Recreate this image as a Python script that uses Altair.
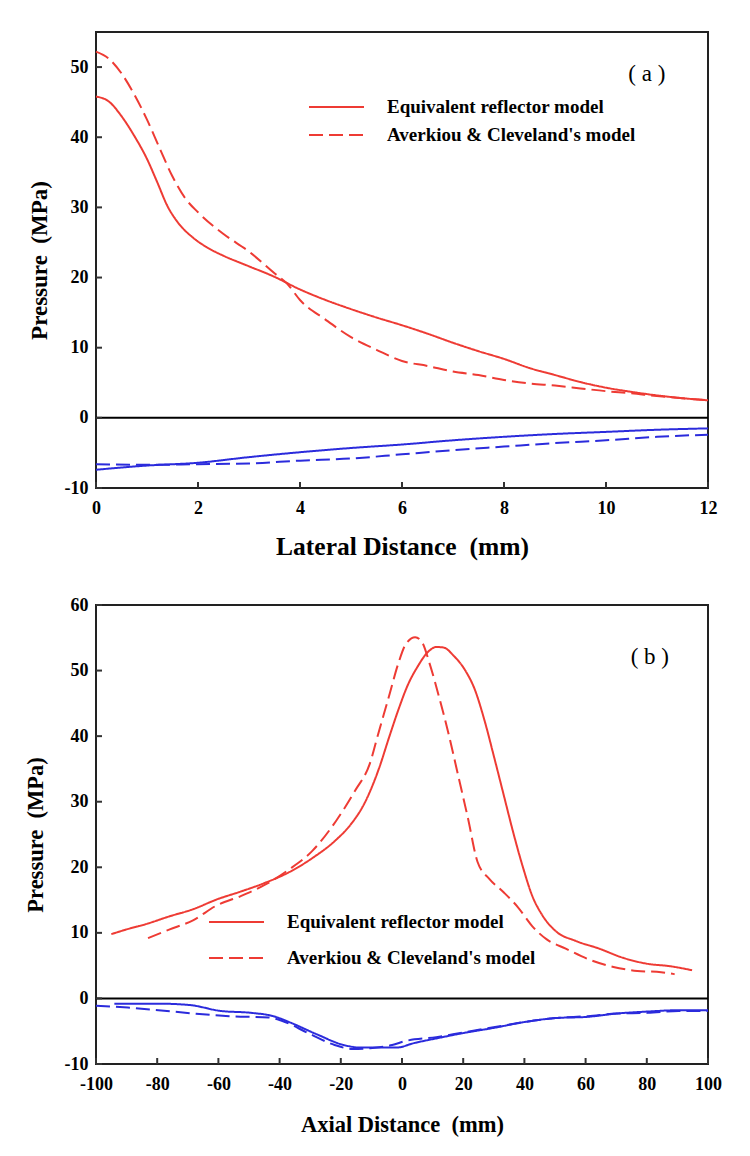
import altair as alt
import pandas as pd

RED = "#ee3b34"
BLUE = "#2b2bdc"
EQ = "Equivalent reflector model"
AC = "Averkiou & Cleveland's model"
FONT = "Liberation Serif"
NB = "\u00a0"

# ---------------- panel (a): lateral distance ----------------
a_eq_pos_x = [0, 0.25, 0.5, 0.75, 1, 1.2, 1.4, 1.6, 1.9, 2.2, 2.5, 3, 3.5, 4, 4.5, 5,
              5.5, 6, 6.5, 7, 7.5, 8, 8.5, 9, 9.5, 10, 10.5, 11, 11.5, 12]
a_eq_pos_p = [45.8, 45.1, 43.0, 40.2, 36.9, 33.6, 30.2, 27.9, 25.7, 24.2, 23.1, 21.6, 20.1,
              18.3, 16.8, 15.5, 14.3, 13.2, 12.0, 10.7, 9.5, 8.4, 7.1, 6.1, 5.1, 4.3, 3.7,
              3.2, 2.8, 2.5]
a_ac_pos_x = [0, 0.25, 0.5, 0.75, 1, 1.25, 1.5, 1.75, 2, 2.5, 3, 3.5, 3.75, 4, 4.5, 5,
              5.5, 6, 6.5, 7, 7.5, 8, 8.5, 9, 9.5, 10, 10.5, 11, 11.5, 12]
a_ac_pos_p = [52.2, 51.2, 49.1, 46.1, 42.5, 38.4, 34.4, 31.3, 29.3, 26.2, 23.7, 20.6, 19.1,
              16.8, 14.0, 11.5, 9.7, 8.1, 7.4, 6.6, 6.1, 5.4, 4.9, 4.6, 4.2, 3.8, 3.5,
              3.1, 2.8, 2.5]
a_neg_x = [0, 1, 2, 3, 4, 5, 6, 7, 8, 9, 10, 11, 12]
a_eq_neg_p = [-7.4, -6.8, -6.4, -5.6, -4.9, -4.3, -3.8, -3.2, -2.7, -2.3, -2.0, -1.7, -1.5]
a_ac_neg_p = [-6.6, -6.7, -6.6, -6.5, -6.1, -5.8, -5.2, -4.6, -4.1, -3.6, -3.2, -2.7, -2.4]

# ---------------- panel (b): axial distance ----------------
b_eq_pos_x = [-95, -90.2, -83.9, -76.1, -68.3, -60.5, -52.7, -44.9, -37.1, -29.3, -21.5,
              -16.8, -12.1, -7.5, -4.3, -1.2, 1.9, 5.1, 8.2, 11.3, 13.7, 16.8, 20.7, 23.8,
              26.9, 30.1, 33.2, 36.3, 39.4, 42.6, 45.7, 50.4, 56.6, 64.4, 72.2, 80.0, 87.8, 94.8]
b_eq_pos_p = [9.8, 10.5, 11.3, 12.5, 13.6, 15.1, 16.3, 17.6, 19.2, 21.4, 24.2, 26.5, 29.9,
              35.1, 39.7, 44.0, 47.8, 50.6, 52.7, 53.6, 53.5, 52.3, 50.0, 47.1, 42.5, 36.8,
              31.1, 25.4, 20.2, 15.6, 12.8, 10.2, 8.8, 7.6, 6.2, 5.3, 4.9, 4.3]
b_ac_pos_x = [-83, -76.1, -68.3, -60.5, -52.7, -44.9, -37.1, -29.3, -21.5, -15.3, -10.6,
              -7.5, -4.3, -1.2, 1.2, 4.3, 6.6, 9.0, 12.1, 15.3, 18.4, 21.5, 24.7, 28.6,
              33.2, 37.9, 42.6, 47.3, 53.5, 61.3, 69.1, 76.9, 84.7, 89.1]
b_ac_pos_p = [9.2, 10.5, 11.9, 14.2, 15.6, 17.3, 19.6, 22.5, 27.1, 31.7, 35.7, 40.8, 46.0,
              51.1, 54.0, 55.1, 54.3, 51.1, 46.0, 40.2, 33.9, 27.6, 20.8, 18.2, 16.2, 13.9,
              11.0, 9.0, 7.6, 5.9, 4.8, 4.2, 4.0, 3.7]
b_eq_neg_x = [-94, -79.6, -69.5, -59.4, -49.3, -42.1, -36.4, -27.7, -19.1, -13.3, -1.8,
              4.0, 11.2, 19.8, 29.9, 40, 50, 60.8, 70.2, 80.3, 90.3, 100]
b_eq_neg_p = [-0.8, -0.8, -1.0, -1.9, -2.2, -2.7, -3.7, -5.5, -7.1, -7.5, -7.5, -6.8, -6.1,
              -5.3, -4.5, -3.6, -3.0, -2.8, -2.3, -2.0, -1.8, -1.8]
b_ac_neg_x = [-100, -89.6, -79.6, -68, -56.5, -43.6, -39.3, -30.6, -22, -16.2, -10.4, -3.2,
              1.1, 11.2, 19.8, 29.9, 40, 50, 60.8, 70.2, 80.3, 90.3, 100]
b_ac_neg_p = [-1.1, -1.4, -1.8, -2.3, -2.7, -2.9, -3.4, -5.3, -7.1, -7.7, -7.6, -7.1, -6.5,
              -5.9, -5.2, -4.4, -3.6, -3.0, -2.7, -2.3, -2.2, -1.9, -1.9]

a_xticks = [0, 2, 4, 6, 8, 10, 12]
a_yticks = [-10, 0, 10, 20, 30, 40, 50]
b_xticks = [-100, -80, -60, -40, -20, 0, 20, 40, 60, 80, 100]
b_yticks = [-10, 0, 10, 20, 30, 40, 50, 60]


def make_df(series):
    rows = []
    for xs, ps, model, sign in series:
        for x, p in zip(xs, ps):
            rows.append({"x": x, "p": p, "model": model, "sign": sign})
    return pd.DataFrame(rows)


df_a = make_df([(a_eq_pos_x, a_eq_pos_p, EQ, "pos"), (a_ac_pos_x, a_ac_pos_p, AC, "pos"),
                (a_neg_x, a_eq_neg_p, EQ, "neg"), (a_neg_x, a_ac_neg_p, AC, "neg")])
df_b = make_df([(b_eq_pos_x, b_eq_pos_p, EQ, "pos"), (b_ac_pos_x, b_ac_pos_p, AC, "pos"),
                (b_eq_neg_x, b_eq_neg_p, EQ, "neg"), (b_ac_neg_x, b_ac_neg_p, AC, "neg")])


def panel(df, xdom, ydom, xticks, yticks, xtitle, label, lab_x, lab_y, w, h,
          xtitle_size, xtitle_pad, ytitle_size, ytitle_pad, leg_x, leg_y, row_pad):
    xs = alt.Scale(domain=xdom, nice=False, zero=False)
    ys = alt.Scale(domain=ydom, nice=False, zero=False)
    lines = alt.Chart(df).mark_line(strokeWidth=2, interpolate="monotone").encode(
        x=alt.X("x:Q", scale=xs,
                axis=alt.Axis(values=xticks, title=xtitle, titleFontSize=xtitle_size,
                              titlePadding=xtitle_pad, labelPadding=11,
                              labelExpr="'' + datum.value", labelFlush=False,
                              labelOverlap=False)),
        y=alt.Y("p:Q", scale=ys,
                axis=alt.Axis(values=yticks, title="Pressure" + NB + NB + "(MPa)",
                              titleFontSize=ytitle_size, titlePadding=ytitle_pad,
                              labelPadding=8, labelExpr="'' + datum.value",
                              labelFlush=False, labelOverlap=False)),
        color=alt.Color("sign:N", scale=alt.Scale(domain=["pos", "neg"], range=[RED, BLUE]),
                        legend=None),
        strokeDash=alt.StrokeDash(
            "model:N",
            scale=alt.Scale(domain=[EQ, AC], range=[[1, 0], [14, 6]]),
            legend=alt.Legend(orient="none", legendX=leg_x, legendY=leg_y, title=None,
                              symbolType="stroke", symbolStrokeColor=RED,
                              symbolStrokeWidth=2, symbolSize=3025, clipHeight=16,
                              rowPadding=row_pad, labelOffset=22, padding=0,
                              labelLimit=0,
                              labelFont=FONT, labelFontWeight="bold", labelFontSize=19,
                              labelColor="black")),
    )
    zero = alt.Chart(pd.DataFrame({"p": [0]})).mark_rule(color="black", strokeWidth=2).encode(
        y=alt.Y("p:Q", scale=ys))
    yt = alt.Chart(pd.DataFrame({"p": yticks})).mark_rule(color="#333", strokeWidth=2).encode(
        y=alt.Y("p:Q", scale=ys), x=alt.value(0), x2=alt.value(6))
    xt = alt.Chart(pd.DataFrame({"x": xticks})).mark_rule(color="#333", strokeWidth=2).encode(
        x=alt.X("x:Q", scale=xs), y=alt.value(h), y2=alt.value(h - 6))
    txt = alt.Chart(pd.DataFrame({"x": [lab_x], "p": [lab_y], "t": [label]})).mark_text(
        font=FONT, fontSize=23, color="black").encode(
        x=alt.X("x:Q", scale=xs), y=alt.Y("p:Q", scale=ys), text="t:N")
    return alt.layer(lines, zero, yt, xt, txt).properties(width=w, height=h)


top = panel(df_a, [0, 12], [-10, 55], a_xticks, a_yticks,
            "Lateral Distance" + NB + NB + "(mm)",
            "(" + NB + "a" + NB + ")", 10.8, 49, 612, 456, 25.5, 17, 23, 13, 212, 67, 9)
bottom = panel(df_b, [-100, 100], [-10, 60], b_xticks, b_yticks,
               "Axial Distance" + NB + NB + "(mm)",
               "(" + NB + "b" + NB + ")", 81, 52, 612, 459, 22.5, 20, 22.5, 17, 112, 309, 17)

chart = alt.vconcat(top, bottom, spacing=34).resolve_scale(
    strokeDash="independent", color="independent", x="independent", y="independent"
).properties(
    padding={"top": 23, "left": 15, "right": 10, "bottom": 5}
).configure_view(
    stroke="#222", strokeWidth=2
).configure_axis(
    labelFont=FONT, labelFontWeight="bold", labelFontSize=18, labelColor="black",
    titleFont=FONT, titleFontWeight="bold", titleColor="black",
    ticks=False, tickSize=0, domain=False, grid=False
)

chart.save("out.html", embed_options={"renderer": "svg", "actions": False})
